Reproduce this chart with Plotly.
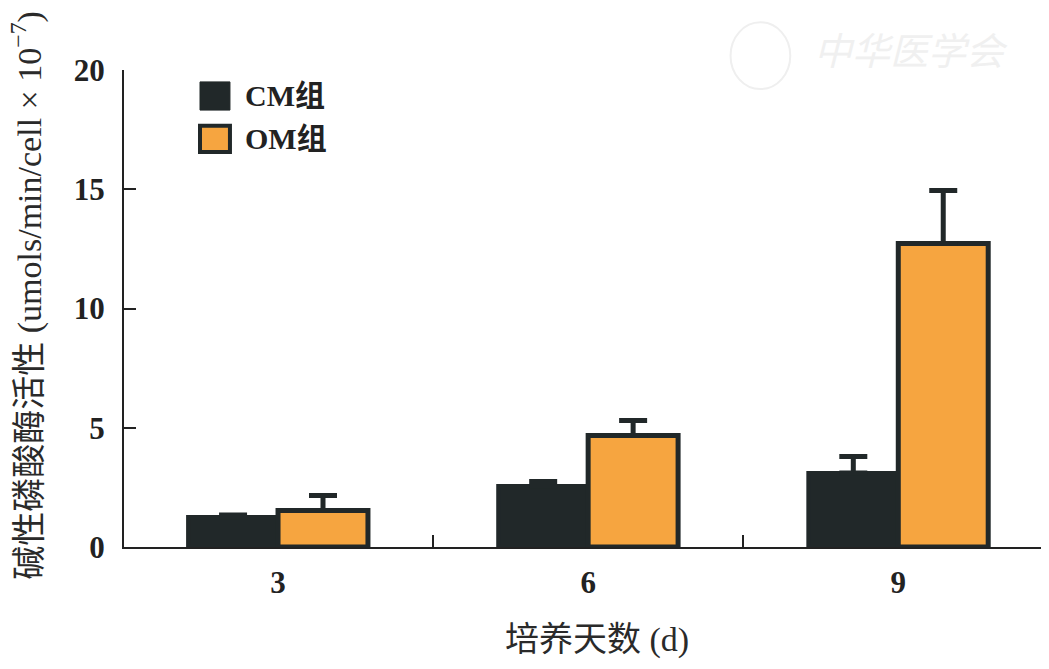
import plotly.graph_objects as go

days = [3, 6, 9]
tick_labels = ["3", "6", "9"]
cm_values = [1.26, 2.56, 3.10]
cm_errors = [0.08, 0.19, 0.69]
om_values = [1.53, 4.68, 12.73]
om_errors = [0.63, 0.62, 2.22]
series_names = ["CM组", "OM组"]

DARK = "#212829"
ORANGE = "#f6a540"

fig = go.Figure()
fig.add_trace(go.Bar(
    x=days, y=cm_values, name=series_names[0],
    marker=dict(color=DARK, line=dict(color=DARK, width=4)),
    error_y=dict(type="data", array=cm_errors, arrayminus=[0] * 3, symmetric=False,
                 color=DARK, thickness=5, width=14),
))
fig.add_trace(go.Bar(
    x=days, y=om_values, name=series_names[1],
    marker=dict(color=ORANGE, line=dict(color=DARK, width=5)),
    error_y=dict(type="data", array=om_errors, arrayminus=[0] * 3, symmetric=False,
                 color=DARK, thickness=5, width=14),
))

tick_font = dict(family="Liberation Serif", size=31, color="#222222")

fig.update_layout(
    width=1049, height=669,
    margin=dict(l=116, r=14, t=62, b=130),
    paper_bgcolor="white", plot_bgcolor="white",
    barmode="group", bargap=0.42, bargroupgap=0,
    showlegend=False,
    font=dict(family="Liberation Serif", color="#222222"),
)
fig.update_xaxes(
    range=[1.51, 10.40], tickvals=days, ticktext=[f"<b>{t}</b>" for t in tick_labels],
    tickfont=tick_font, ticks="", showgrid=False, zeroline=False,
    showline=True, linecolor="#222222", linewidth=2, ticklabelstandoff=7,
    minor=dict(tick0=4.5, dtick=3, ticks="inside", ticklen=12, tickwidth=2,
               tickcolor="#222222", showgrid=False),
)
fig.update_yaxes(
    range=[0, 20], tickvals=[0, 5, 10, 15, 20],
    ticktext=["<b>0</b>", "<b>5</b>", "<b>10</b>", "<b>15</b>", "<b>20</b>"],
    tickfont=tick_font, ticks="inside", ticklen=12, tickwidth=2, tickcolor="#222222",
    showgrid=False, zeroline=False, showline=True, linecolor="#222222", linewidth=2,
    ticklabelstandoff=11,
)

# Legend drawn manually
fig.add_shape(type="rect", xref="paper", yref="paper", x0=0.0827, x1=0.1153, y0=0.916, y1=0.975,
              fillcolor=DARK, line=dict(color=DARK, width=1))
fig.add_shape(type="rect", xref="paper", yref="paper", x0=0.0827, x1=0.1153, y0=0.828, y1=0.883,
              fillcolor=ORANGE, line=dict(color=DARK, width=4))
fig.add_annotation(xref="paper", yref="paper", x=0.1295, y=0.9455, xanchor="left", yanchor="middle",
                   text=f"<b>{series_names[0]}</b>", showarrow=False,
                   font=dict(family="Liberation Serif, Noto Sans CJK SC", size=30, color="#222222"))
fig.add_annotation(xref="paper", yref="paper", x=0.1295, y=0.8555, xanchor="left", yanchor="middle",
                   text=f"<b>{series_names[1]}</b>", showarrow=False,
                   font=dict(family="Liberation Serif, Noto Sans CJK SC", size=30, color="#222222"))

# Axis titles
fig.add_annotation(xref="paper", yref="paper", x=-0.106, y=0.528, xanchor="center", yanchor="middle",
                   textangle=-90, showarrow=False,
                   text="碱性磷酸酶活性 (umols/min/cell × 10<sup>−7</sup>)",
                   font=dict(family="Liberation Serif, Noto Sans CJK SC", size=34, color="#2a2a2a"))
fig.add_annotation(xref="paper", yref="paper", x=0.5147, y=-0.195, xanchor="center", yanchor="middle",
                   showarrow=False, text="培养天数 (d)",
                   font=dict(family="Liberation Serif, Noto Sans CJK SC", size=34, color="#2a2a2a"))

# Faint watermark
fig.add_shape(type="circle", xref="paper", yref="paper", x0=0.66, x1=0.725, y0=0.96, y1=1.10,
              line=dict(color="#efefef", width=2))
fig.add_annotation(xref="paper", yref="paper", x=0.964, y=1.046, xanchor="right", yanchor="middle",
                   showarrow=False, text="<i>中华医学会</i>",
                   font=dict(family="Noto Sans CJK SC", size=38, color="#f0f0f0"))

fig.write_html("out.html")
